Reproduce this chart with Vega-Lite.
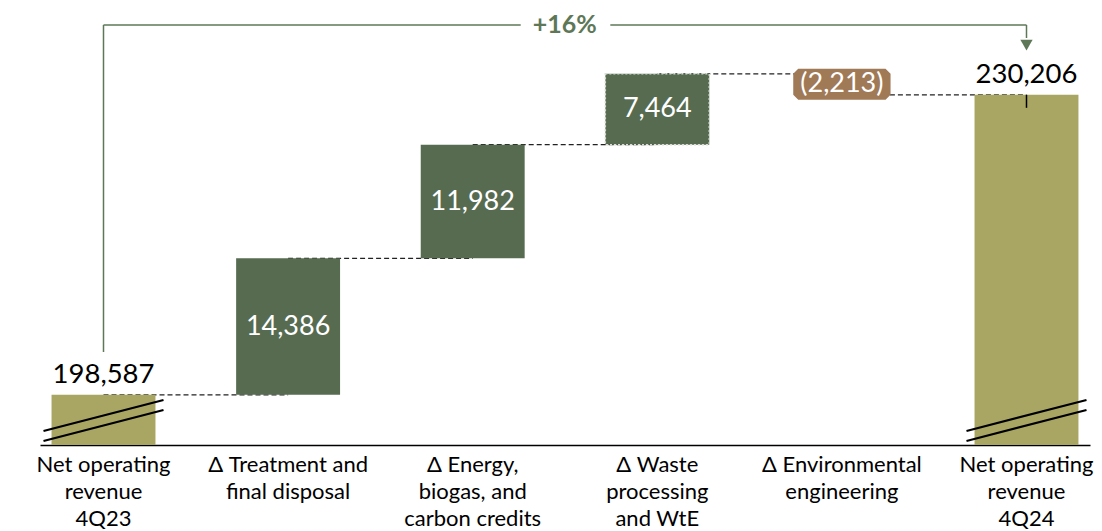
{
  "$schema": "https://vega.github.io/schema/vega-lite/v6.json",
  "autosize": "none",
  "width": 1050,
  "height": 435,
  "padding": {"left": 40, "top": 10, "right": 12, "bottom": 86},
  "background": "white",
  "config": {"view": {"stroke": null}, "font": "Lato"},
  "data": {"values": [
    {"cat": "Net operating\nrevenue\n4Q23", "next": "Δ Treatment and\nfinal disposal", "start": 0, "end": 198587, "kind": "total", "label": "198,587"},
    {"cat": "Δ Treatment and\nfinal disposal", "next": "Δ Energy,\nbiogas, and\ncarbon credits", "start": 198587, "end": 212973, "kind": "up", "label": "14,386"},
    {"cat": "Δ Energy,\nbiogas, and\ncarbon credits", "next": "Δ Waste\nprocessing\nand WtE", "start": 212973, "end": 224955, "kind": "up", "label": "11,982"},
    {"cat": "Δ Waste\nprocessing\nand WtE", "next": "Δ Environmental\nengineering", "start": 224955, "end": 232419, "kind": "up", "label": "7,464"},
    {"cat": "Δ Environmental\nengineering", "next": "Net operating\nrevenue\n4Q24", "start": 232419, "end": 230206, "kind": "down", "label": "(2,213)"},
    {"cat": "Net operating\nrevenue\n4Q24", "next": null, "start": 0, "end": 230206, "kind": "total", "label": "230,206"}
  ]},
  "encoding": {
    "x": {
      "field": "cat", "type": "nominal",
      "scale": {
        "domain": ["Net operating\nrevenue\n4Q23", "Δ Treatment and\nfinal disposal", "Δ Energy,\nbiogas, and\ncarbon credits", "Δ Waste\nprocessing\nand WtE", "Δ Environmental\nengineering", "Net operating\nrevenue\n4Q24"],
        "paddingInner": 0.437, "paddingOuter": 0.0625
      },
      "axis": {
        "title": null, "labelAngle": 0, "ticks": false, "domainColor": "#000000", "domainWidth": 1.5,
        "labelFontSize": 22, "labelLineHeight": 27, "labelPadding": 9, "labelColor": "#000000",
        "labelLimit": 0, "labelBaseline": "top",
        "labelExpr": "split(datum.value, '\\n')"
      }
    }
  },
  "layer": [
    {
      "transform": [{"filter": "datum.next != null"}],
      "mark": {"type": "rule", "strokeDash": [5, 3], "color": "#222222", "strokeWidth": 1.2},
      "encoding": {
        "x2": {"field": "next"},
        "y": {"field": "end", "type": "quantitative", "scale": {"domain": [193300, 239150], "clamp": true, "zero": false, "nice": false}, "axis": null}
      }
    },
    {
      "transform": [{"filter": "datum.kind != 'down'"}],
      "mark": {"type": "bar"},
      "encoding": {
        "y": {"field": "start", "type": "quantitative"},
        "y2": {"field": "end"},
        "color": {"field": "kind", "type": "nominal", "scale": {"domain": ["total", "up", "down"], "range": ["#A9A663", "#576B51", "#A07957"]}, "legend": null}
      }
    },
    {
      "transform": [{"filter": "datum.kind == 'down'"}],
      "mark": {"type": "bar", "width": {"band": 0.84}, "fill": "#A07957", "stroke": "#A07957", "strokeWidth": 10, "strokeJoin": "bevel"},
      "encoding": {
        "y": {"field": "start", "type": "quantitative"},
        "y2": {"field": "end"}
      }
    },
    {
      "transform": [{"filter": "datum.label == '7,464'"}],
      "mark": {"type": "bar", "fill": null, "fillOpacity": 0, "stroke": "#d8ddd5", "strokeWidth": 1.5, "strokeDash": [2, 2]},
      "encoding": {
        "y": {"field": "start", "type": "quantitative"},
        "y2": {"field": "end"}
      }
    },
    {
      "transform": [{"filter": "datum.kind == 'total'"}],
      "mark": {"type": "point", "shape": "M-1,0.175L1,-0.342M-1,0.342L1,-0.175", "size": 14400, "filled": false, "stroke": "#000000", "strokeWidth": 2.2, "opacity": 1},
      "encoding": {
        "y": {"datum": 195882}
      }
    },
    {
      "transform": [{"filter": "datum.kind == 'total'"}],
      "mark": {"type": "text", "baseline": "alphabetic", "dy": -12, "fontSize": 27.5, "color": "#000000"},
      "encoding": {
        "y": {"field": "end", "type": "quantitative"},
        "text": {"field": "label"}
      }
    },
    {
      "transform": [{"filter": "datum.kind != 'total'"}, {"calculate": "(datum.start + datum.end) / 2", "as": "mid"}],
      "mark": {"type": "text", "baseline": "middle", "fontSize": 27, "color": "#ffffff"},
      "encoding": {
        "y": {"field": "mid", "type": "quantitative"},
        "text": {"field": "label"}
      }
    },
    {
      "data": {"values": [{}]},
      "mark": {"type": "rule", "color": "#000000", "strokeWidth": 1.5},
      "encoding": {
        "x": {"datum": "Net operating\nrevenue\n4Q24", "type": "nominal"},
        "y": {"datum": 230206},
        "y2": {"datum": 228840}
      }
    },
    {
      "data": {"values": [{}]},
      "mark": {"type": "rule", "color": "#5E7857", "strokeWidth": 1.5},
      "encoding": {
        "x": {"datum": "Net operating\nrevenue\n4Q23", "type": "nominal"},
        "y": {"datum": 237570},
        "y2": {"datum": 203100}
      }
    },
    {
      "data": {"values": [{}]},
      "mark": {"type": "rule", "color": "#5E7857", "strokeWidth": 1.5, "x2Offset": 48},
      "encoding": {
        "x": {"datum": "Net operating\nrevenue\n4Q23", "type": "nominal"},
        "x2": {"datum": "Δ Energy,\nbiogas, and\ncarbon credits"},
        "y": {"datum": 237570}
      }
    },
    {
      "data": {"values": [{}]},
      "mark": {"type": "rule", "color": "#5E7857", "strokeWidth": 1.5, "xOffset": -47},
      "encoding": {
        "x": {"datum": "Δ Waste\nprocessing\nand WtE", "type": "nominal"},
        "x2": {"datum": "Net operating\nrevenue\n4Q24"},
        "y": {"datum": 237570}
      }
    },
    {
      "data": {"values": [{}]},
      "mark": {"type": "rule", "color": "#5E7857", "strokeWidth": 1.5},
      "encoding": {
        "x": {"datum": "Net operating\nrevenue\n4Q24", "type": "nominal"},
        "y": {"datum": 237570},
        "y2": {"datum": 236200}
      }
    },
    {
      "data": {"values": [{}]},
      "mark": {"type": "point", "shape": "triangle-down", "size": 150, "filled": true, "color": "#5E7857", "opacity": 1},
      "encoding": {
        "x": {"datum": "Net operating\nrevenue\n4Q24", "type": "nominal"},
        "y": {"datum": 235450}
      }
    },
    {
      "data": {"values": [{"t": "+16%"}]},
      "mark": {"type": "text", "dx": 92, "baseline": "middle", "fontSize": 25, "fontWeight": "bold", "color": "#5E7857"},
      "encoding": {
        "x": {"datum": "Δ Energy,\nbiogas, and\ncarbon credits", "type": "nominal"},
        "y": {"datum": 237570},
        "text": {"field": "t"}
      }
    }
  ]
}
